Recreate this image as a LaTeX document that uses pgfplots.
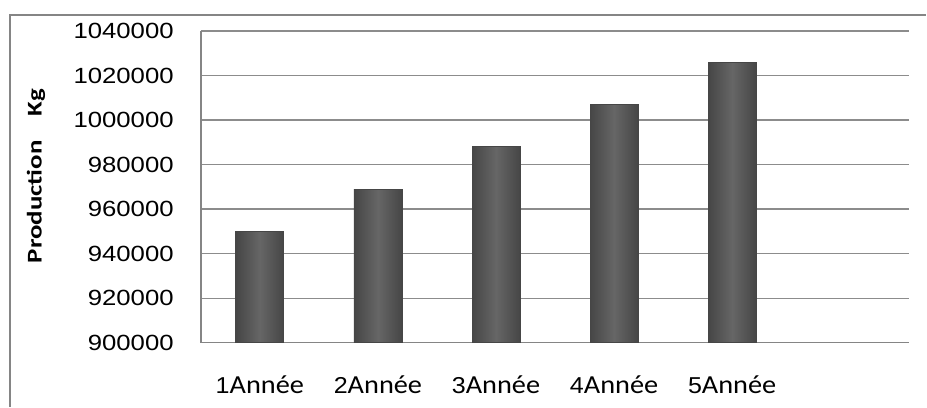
\documentclass[border=0pt]{standalone}
\usepackage{pgfplots}
\pgfplotsset{compat=1.18}
\usepackage{fontspec}
\setmainfont{Liberation Sans}
\newfontfamily\carlito{Carlito}
\definecolor{gridgray}{HTML}{8C8C8C}
\definecolor{axisgray}{HTML}{858585}
\definecolor{barmid}{HTML}{666666}
\definecolor{baredge}{HTML}{464646}
\newcommand{\an}[1]{\scalebox{1.09}[1]{#1{\carlito\fontsize{26}{30}\selectfont Année}}}
\begin{document}
\begin{tikzpicture}
\begin{axis}[
  scale only axis, width=709pt, height=312pt,
  xmin=0.5, xmax=6.5,
  ymin=900000, ymax=1040000,
  ytick={900000,920000,940000,960000,980000,1000000,1020000,1040000},
  xtick={1,2,3,4,5},
  xticklabels={\an{1},\an{2},\an{3},\an{4},\an{5}},
  axis x line*=bottom, axis y line*=left,
  axis line style={axisgray, line width=1.5pt, -},
  major tick length=0pt,
  ymajorgrids, major grid style={gridgray, line width=1.3pt},
  scaled y ticks=false,
  /pgf/number format/assume math mode=true,
  yticklabel={\scalebox{1.17}[1]{\pgfmathprintnumber[fixed,1000 sep={}]{\tick}}},
  yticklabel style={font=\fontsize{22}{26}\selectfont, anchor=east, inner sep=0pt, xshift=-27pt},
  xticklabel style={font=\fontsize{23}{27}\selectfont, anchor=base, inner sep=0pt, yshift=-51pt},
  ylabel={\scalebox{1.28}[1]{\carlito\bfseries Production\hspace{19pt}Kg}},
  ylabel style={at={(axis description cs:-0.2327,0.535)}, anchor=center, font=\fontsize{21}{25}\selectfont},
  clip=false,
  bar shift=0pt,
  mybar/.style={ybar, bar width=48pt, draw=baredge, line width=0.8pt, left color=baredge, right color=baredge, middle color=barmid, mark=none},
]
\addplot[mybar] coordinates {(1,950000)};
\addplot[mybar] coordinates {(2,969000)};
\addplot[mybar] coordinates {(3,988000)};
\addplot[mybar] coordinates {(4,1007000)};
\addplot[mybar] coordinates {(5,1026000)};
\end{axis}
\path (-201pt,-64pt) rectangle (726pt,343pt);
\draw[axisgray, line width=1.5pt] (-191pt,-64pt) -- (-191pt,328pt) -- (726pt,328pt);
\end{tikzpicture}
\end{document}
